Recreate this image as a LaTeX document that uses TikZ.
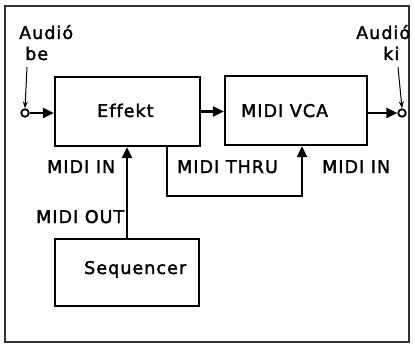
\documentclass[tikz,border=0pt]{standalone}
\usepackage{fontspec}
\setmainfont{DejaVu Sans}[LetterSpace=6, Ligatures=CommonOff, FakeBold=2]
\usetikzlibrary{arrows.meta}
\begin{document}
\begin{tikzpicture}[x=1pt,y=-1pt,
  font=\fontsize{17.5}{20}\selectfont,
  blk/.style={draw, line width=2.2pt, inner sep=0pt},
  sig/.style={line width=2.2pt, -{Triangle[length=11pt,width=10pt]}},
  tag/.style={line width=1pt, -{Stealth[length=7pt,width=5pt]}},
  jack/.style={circle, draw, line width=1.8pt, minimum size=7.5pt, inner sep=0pt},
  txt/.style={inner sep=0pt, anchor=base west}]
\useasboundingbox (0,0) rectangle (415,345);
% outer frame
\draw[line width=1.5pt, black!80] (5,6) rectangle (409,342);

% blocks
\node[blk, minimum width=145pt, minimum height=69pt] (eff) at (127.5,111.5) {};
\node[blk, minimum width=142pt, minimum height=69pt] (vca) at (296,110.5) {};
\node[blk, minimum width=144pt, minimum height=67pt] (seq) at (127,272.5) {};
\node[txt] (efft) at (97,117) {Effekt};
\node[txt] (vcat) at (241,117) {MIDI VCA};
\node[txt] (seqt) at (84,274) {Sequencer};

% audio jacks and their labels
\node[jack] (jin) at (25,113) {};
\node[jack] (jout) at (402,113) {};
\node[txt] (inA) at (19,39) {Audió};
\node[txt] (inB) at (25,60) {be};
\node[txt] (outA) at (356,39) {Audió};
\node[txt] (outB) at (383,60) {ki};
\coordinate (inhead) at (27,67);
\coordinate (outhead) at (398,67);
\draw[tag] (inhead) -- (jin.north);
\draw[tag] (outhead) -- (jout.north);

% audio path
\draw[sig] (jin.east) -- (jin -| eff.west);
\draw[sig] (eff.east) -- (eff.east -| vca.west);
\draw[sig] (vca.east |- jout) -- (jout.west);

% MIDI connections
\coordinate (t1) at (167,196);
\coordinate (t2) at (302,196);
\draw[sig] (seq.north) -- (seq.north |- eff.south);
\draw[sig] (t1 |- eff.south) -- (t1) -- (t2) -- (t2 |- vca.south);

\node[txt] (midiin1) at (47,173) {MIDI IN};
\node[txt] (midithru) at (177,173) {MIDI THRU};
\node[txt] (midiin2) at (322,173) {MIDI IN};
\node[txt] (midiout) at (36,223) {MIDI OUT};
\end{tikzpicture}
\end{document}
